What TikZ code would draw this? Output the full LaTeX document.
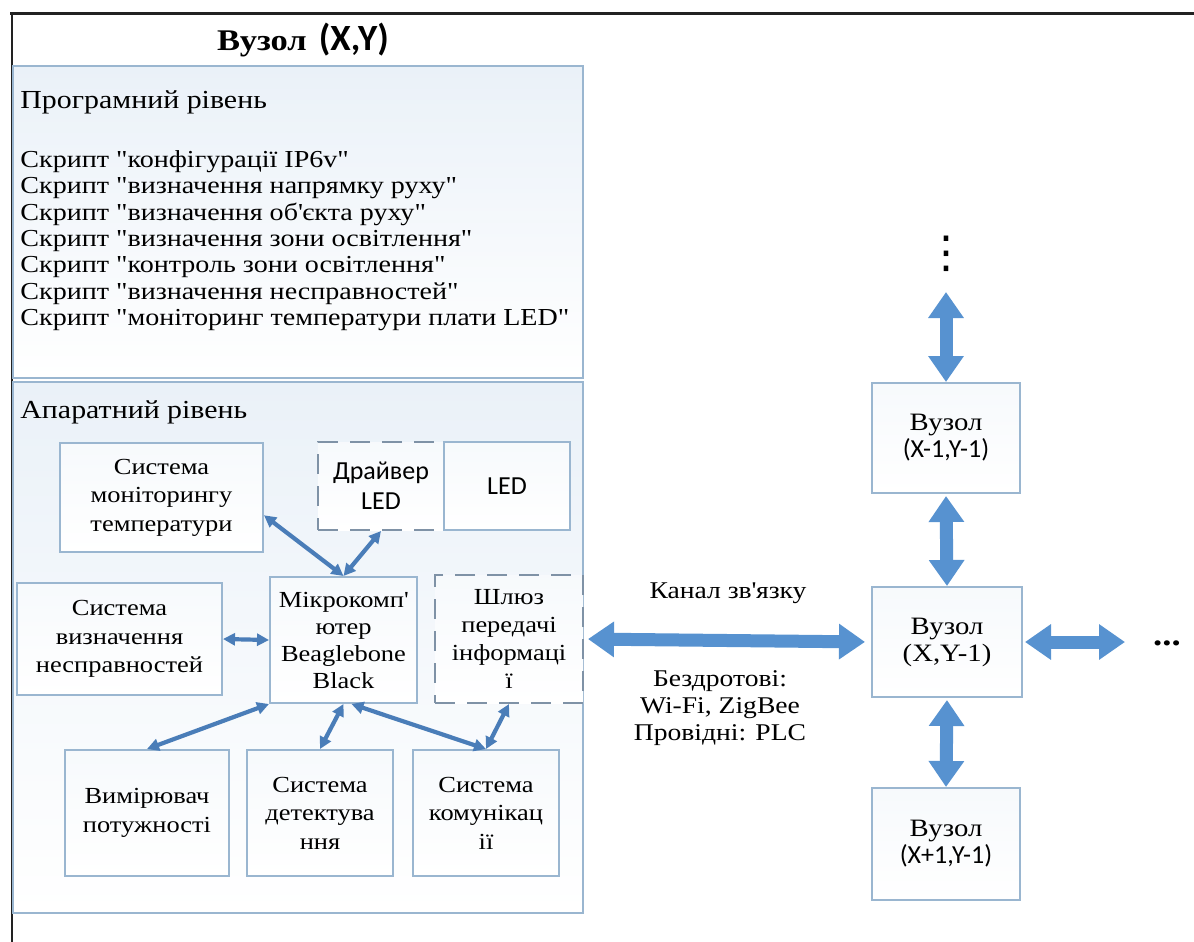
\documentclass[tikz,border=0pt]{standalone}
\usepackage{fontspec}
\setmainfont[FakeStretch=1.15, Ligatures=TeXOff]{Liberation Serif}
\newfontfamily\sfc{Carlito}
\newfontfamily\djv{DejaVu Sans}
\usetikzlibrary{arrows.meta,calc}
\definecolor{bord}{HTML}{9AB6D0}
\definecolor{dashcol}{HTML}{7F92A6}
\definecolor{sarr}{HTML}{4A7DB8}
\definecolor{barr}{HTML}{5792D0}
\definecolor{bgtint}{HTML}{EAF1F8}
\definecolor{frame}{HTML}{222222}
\tikzset{
  bigbox/.style={draw=bord, line width=1pt, top color=bgtint, bottom color=white, inner sep=0pt},
  ibox/.style={draw=bord, line width=1pt, top color=bgtint!40, bottom color=white, inner sep=0pt, align=center, font=\fontsize{11.5}{14.25}\selectfont},
  dbox/.style={ibox, draw=dashcol, dash pattern=on 10pt off 6pt},
  nbox/.style={draw=bord, line width=1pt, top color=bgtint!40, bottom color=white, inner sep=0pt, align=center, font=\fontsize{12.5}{13.5}\selectfont},
  sarrow/.style={draw=sarr, line width=2.1pt, >={Triangle[length=6pt,width=6pt]}, <->},
  barrow/.style={draw=barr, line width=6.5pt, >={Triangle[length=13pt,width=17pt]}, <->},
  script/.style={anchor=west, inner sep=0pt, font=\fontsize{12.2}{13}\selectfont},
  heading/.style={anchor=west, inner sep=0pt, font=\fontsize{13}{15}\selectfont},
  lbl/.style={inner sep=0pt, align=center, font=\fontsize{12}{13.5}\selectfont},
}
\begin{document}
\begin{tikzpicture}[x=0.5pt,y=-0.5pt]
\useasboundingbox (0,0) rectangle (1194,942);
\fill[white] (0,0) rectangle (1194,942);
% frame lines
\draw[frame, line width=1.5pt] (10,13) -- (1194,13);
\draw[frame, line width=1.2pt] (12,13) -- (12,942);
% title
\node[inner sep=0pt, font=\bfseries] (title) at (303,40) {{\fontsize{15}{18}\selectfont Вузол}\hspace{6pt}{\sfc\fontsize{18.5}{20}\selectfont (X,Y)}};
% big boxes
\node[bigbox, minimum width=285pt, minimum height=156pt] (soft) at (298,222) {};
\node[bigbox, minimum width=285pt, minimum height=265.5pt] (hard) at (298,647.5) {};
% software level
\node[heading] (prog) at (20,102) {Програмний рівень};
\node[script] (s1) at (20,162) {Скрипт "конфігурації IP6v"};
\node[script] (s2) at (20,188) {Скрипт "визначення напрямку руху"};
\node[script] (s3) at (20,214.5) {Скрипт "визначення об\textquotesingle єкта руху"};
\node[script] (s4) at (20,241) {Скрипт "визначення зони освітлення"};
\node[script] (s5) at (20,267) {Скрипт "контроль зони освітлення"};
\node[script] (s6) at (20,293.5) {Скрипт "визначення несправностей"};
\node[script] (s7) at (20,320) {Скрипт "моніторинг температури плати LED"};
% hardware level
\node[heading] (hw) at (20,412) {Апаратний рівень};
\node[ibox, minimum width=101.5pt, minimum height=54.5pt] (temp) at (161.5,497.5) {Система\\моніторингу\\температури};
\node[dbox, minimum width=63pt, minimum height=44pt, font=\sfc\fontsize{13}{15}\selectfont] (drv) at (381,486) {Драйвер\\LED};
\node[ibox, minimum width=63pt, minimum height=44pt, font=\sfc\fontsize{13}{15}\selectfont] (led) at (507,486) {LED};
\node[ibox, minimum width=102.5pt, minimum height=56pt] (fail) at (119.5,639) {Система\\визначення\\несправностей};
\node[ibox, minimum width=73.5pt, minimum height=63pt, font=\fontsize{11.5}{13.5}\selectfont] (micro) at (343.5,640) {Мікрокомп\textquotesingle\\ютер\\Beaglebone\\Black};
\node[dbox, minimum width=74pt, minimum height=64pt, font=\fontsize{11.5}{14}\selectfont] (shl) at (509,639) {Шлюз\\передачі\\інформаці\\ї};
\node[ibox, minimum width=82pt, minimum height=63pt] (power) at (147,813) {Вимірювач\\потужності};
\node[ibox, minimum width=73pt, minimum height=63pt] (detect) at (320,813) {Система\\детектува\\ння};
\node[ibox, minimum width=73pt, minimum height=63pt] (comm) at (486,813) {Система\\комунікац\\ії};
% small arrows
\draw[sarrow] ($(temp.north east)!0.66!(temp.south east)$) -- (micro.north);
\draw[sarrow] (drv.south) -- (micro.north);
\draw[sarrow] (fail.east) -- (micro.west);
\draw[sarrow] (micro.south west) -- (power.north);
\draw[sarrow] (micro.south) -- (detect.north);
\draw[sarrow] ($(micro.south)+(8,0)$) -- (comm.north);
\draw[sarrow] (shl.south) -- (comm.north);
% right side nodes
\node[nbox, minimum width=74pt, minimum height=55pt] (xm) at (946,438) {Вузол\\{\sfc\fontsize{13}{13.5}\selectfont (X-1,Y-1)}};
\node[nbox, minimum width=75pt, minimum height=55pt] (xn) at (947,642) {Вузол\\(X,Y-1)};
\node[nbox, minimum width=74pt, minimum height=56pt] (xp) at (946,844) {Вузол\\{\sfc\fontsize{13}{13.5}\selectfont (X+1,Y-1)}};
\coordinate (topend) at (946,292);
\coordinate (rightend) at (1125,642);
\node[inner sep=0pt, font=\djv\fontsize{22}{22}\selectfont] (vdots) at (946,254) {⋮};
\node[inner sep=0pt, font=\bfseries\fontsize{16}{16}\selectfont] (hdots) at (1167,643) {...};
% big arrows
\draw[barrow, shorten <=2pt, shorten >=3pt] (shl.east) -- (xn.west);
\draw[barrow] (topend) -- (xm.north);
\draw[barrow, shorten <=1pt] (xm.south) -- (xn.north);
\draw[barrow, shorten <=1pt] (xn.south) -- (xp.north);
\draw[barrow, shorten <=1pt] (xn.east) -- (rightend);
% channel labels
\node[lbl] (chan) at (728,593) {Канал зв\textquotesingle язку};
\node[lbl] (wl) at (720,708) {Бездротові:\\Wi-Fi, ZigBee\\Провідні: PLC};
\end{tikzpicture}
\end{document}
